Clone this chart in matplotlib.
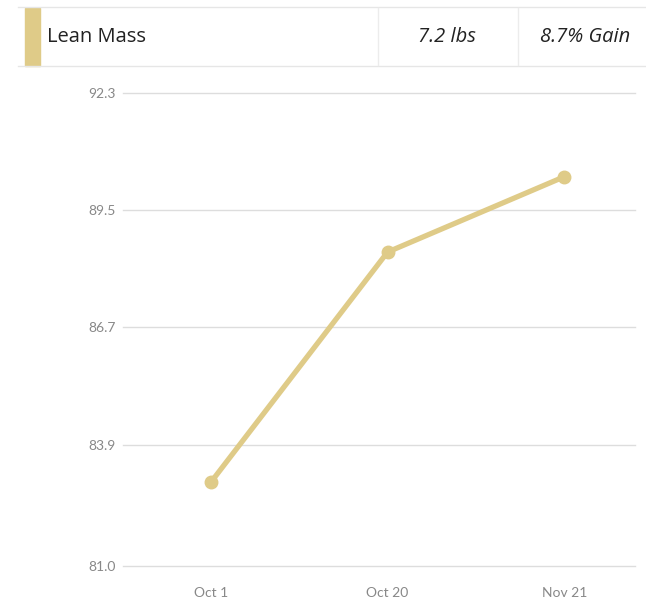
import matplotlib
matplotlib.use("Agg")
import matplotlib.pyplot as plt
from matplotlib.lines import Line2D
from matplotlib.patches import Rectangle

categories = ["Oct 1", "Oct 20", "Nov 21"]
lean_mass = [83.0, 88.5, 90.3]
y_ticks = [81.0, 83.9, 86.7, 89.5, 92.3]
y_tick_labels = ["81.0", "83.9", "86.7", "89.5", "92.3"]
header_name = "Lean Mass"
header_change = "7.2 lbs"
header_pct = "8.7% Gain"

W, H = 646, 605
fig = plt.figure(figsize=(W / 100, H / 100), dpi=100)
fig.patch.set_facecolor("white")

color = "#DFCB88"
font = ["Lato", "DejaVu Sans"]
hfont = ["Open Sans", "DejaVu Sans"]

def fx(px):
    return px / W

def fy(py):
    return 1 - py / H

# header
fig.add_artist(Line2D([fx(18), fx(646)], [fy(7), fy(7)], color="#e6e6e6", lw=1))
fig.add_artist(Line2D([fx(18), fx(646)], [fy(66), fy(66)], color="#e6e6e6", lw=1))
fig.add_artist(Line2D([fx(378), fx(378)], [fy(8), fy(65)], color="#ececec", lw=1))
fig.add_artist(Line2D([fx(518), fx(518)], [fy(8), fy(65)], color="#ececec", lw=1))
fig.add_artist(Rectangle((fx(25), fy(66)), fx(15), 58 / H, color=color, transform=fig.transFigure))
fig.text(fx(47), fy(37), header_name, fontsize=14.5, family=hfont,
         color="#222222", va="center", ha="left")
fig.text(fx(447), fy(37), header_change, fontsize=14.5, family=hfont,
         style="italic", color="#222222", va="center", ha="center")
fig.text(fx(585), fy(37), header_pct, fontsize=14.5, family=hfont,
         style="italic", color="#222222", va="center", ha="center")

# plot
ax = fig.add_axes([fx(123), 1 - 566 / H, fx(635 - 123), (566 - 93) / H])
x = list(range(len(categories)))
ax.plot(x, lean_mass, color=color, lw=3.8, marker="o", markersize=9,
        solid_capstyle="round", zorder=3, clip_on=False)
ax.set_xlim(-0.497, 2.4)
ax.set_ylim(y_ticks[0], y_ticks[-1])
ax.set_yticks(y_ticks)
ax.set_yticklabels(y_tick_labels)
ax.set_xticks(x)
ax.set_xticklabels(categories)
ax.grid(axis="y", color="#dddddd", lw=1)
for gl in ax.get_ygridlines():
    gl.set_clip_on(False)
ax.set_axisbelow(True)
for s in ax.spines.values():
    s.set_visible(False)
ax.tick_params(axis="both", length=0, colors="#888888", labelsize=10)
ax.tick_params(axis="y", pad=5)
ax.tick_params(axis="x", pad=15)
for lbl in ax.get_xticklabels() + ax.get_yticklabels():
    lbl.set_family(font)

fig.savefig("out.png", dpi=100, facecolor="white")
